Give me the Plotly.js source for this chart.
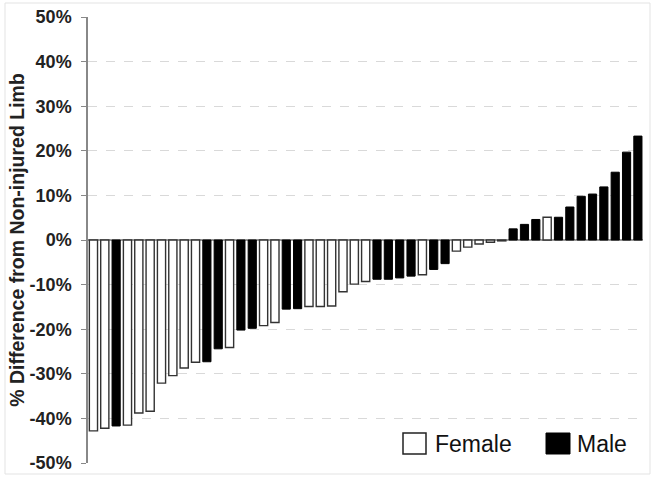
<!DOCTYPE html>
<html>
<head>
<meta charset="utf-8">
<script src="https://cdn.plot.ly/plotly-3.0.1.min.js"></script>
<style>
  html, body { margin: 0; padding: 0; background: #fff; }
  #chart { width: 654px; height: 479px; }
</style>
</head>
<body>
<div id="chart"></div>
<script>
// bars sorted from largest deficit to largest gain, one per subject
const subjectIdx = [];
for (let i = 1; i <= 49; i++) subjectIdx.push(i);

const sex = ['F', 'F', 'M', 'F', 'F', 'F', 'F', 'F', 'F', 'F',
             'M', 'M', 'F', 'M', 'M', 'F', 'F', 'M', 'M', 'F',
             'F', 'F', 'F', 'F', 'F', 'M', 'M', 'M', 'M', 'F',
             'M', 'M', 'F', 'F', 'F', 'F', 'F', 'M', 'M', 'M',
             'F', 'M', 'M', 'M', 'M', 'M', 'M', 'M', 'M'];

const pctDiff = [-42.8, -42.2, -41.7, -41.5, -38.8, -38.4, -32.1, -30.4, -28.7, -27.4,
                 -27.3, -24.4, -24.1, -20.2, -19.8, -19.2, -18.5, -15.5, -15.4, -14.9,
                 -14.9, -14.8, -11.6, -9.9, -9.3, -8.8, -8.8, -8.5, -8.1, -7.8,
                 -6.6, -5.3, -2.5, -1.6, -0.9, -0.5, -0.2, 2.5, 3.5, 4.6,
                 5.1, 5.1, 7.4, 9.8, 10.3, 11.9, 15.2, 19.7, 23.3];

const yTickVals = [-50, -40, -30, -20, -10, 0, 10, 20, 30, 40, 50];
const yTickText = ['-50%', '-40%', '-30%', '-20%', '-10%', '0%', '10%', '20%', '30%', '40%', '50%'];

const legendNames = ['Female', 'Male'];

// split into the two groups
const femX = [], femY = [], maleX = [], maleY = [];
for (let i = 0; i < pctDiff.length; i++) {
    if (sex[i] === 'F') { femX.push(subjectIdx[i]); femY.push(pctDiff[i]); }
    else { maleX.push(subjectIdx[i]); maleY.push(pctDiff[i]); }
}

const female = {
    type: 'bar',
    x: femX,
    y: femY,
    name: legendNames[0],
    width: 0.72,
    marker: {color: '#ffffff', line: {color: '#333333', width: 1.4}},
    hoverinfo: 'skip'
};

const male = {
    type: 'bar',
    x: maleX,
    y: maleY,
    name: legendNames[1],
    width: 0.72,
    marker: {color: '#000000', line: {color: '#000000', width: 1}},
    hoverinfo: 'skip'
};

// plot area is 555 x 446 px, helpers to place the legend box in pixels
const W = 555, H = 446, L = 88, T = 17;
const px = v => (v - L) / W;
const py = v => (T + H - v) / H;

const layout = {
    width: 654,
    height: 479,
    margin: {l: 88, r: 11, t: 17, b: 16},
    paper_bgcolor: '#ffffff',
    plot_bgcolor: '#ffffff',
    barmode: 'overlay',
    showlegend: false,
    font: {family: 'Liberation Sans, Arial, sans-serif', color: '#222222'},
    xaxis: {
        range: [0.52, 49.45],
        showticklabels: false,
        showgrid: false,
        zeroline: false,
        showline: false,
        ticks: ''
    },
    yaxis: {
        range: [-50, 50],
        tickvals: yTickVals,
        ticktext: yTickText,
        tickfont: {size: 18, weight: 'bold', color: '#222222'},
        ticks: 'outside',
        ticklen: 5,
        tickcolor: '#888888',
        ticklabelstandoff: 6,
        showline: true,
        linecolor: '#888888',
        linewidth: 1.5,
        showgrid: true,
        gridcolor: '#d9d9d9',
        griddash: 'dash',
        zeroline: true,
        zerolinecolor: '#999999',
        zerolinewidth: 1.5,
        title: {
            text: '% Difference from Non-injured Limb',
            font: {size: 19.5, weight: 'bold', color: '#222222'},
            standoff: 0
        }
    },
    shapes: [
        {
            type: 'rect', xref: 'paper', yref: 'paper',
            x0: px(5), x1: px(650), y0: py(474), y1: py(3),
            line: {color: '#e3e3e3', width: 1}
        },
        // legend swatches
        {
            type: 'rect', xref: 'paper', yref: 'paper',
            x0: px(403), x1: px(426), y0: py(454), y1: py(433),
            fillcolor: '#ffffff', line: {color: '#222222', width: 1.5}
        },
        {
            type: 'rect', xref: 'paper', yref: 'paper',
            x0: px(546), x1: px(570), y0: py(454), y1: py(433),
            fillcolor: '#000000', line: {color: '#000000', width: 1}
        }
    ],
    annotations: [
        {
            xref: 'paper', yref: 'paper', x: px(433), y: py(444),
            xanchor: 'left', yanchor: 'middle', showarrow: false,
            text: legendNames[0], font: {size: 23, color: '#111111'}
        },
        {
            xref: 'paper', yref: 'paper', x: px(575), y: py(444),
            xanchor: 'left', yanchor: 'middle', showarrow: false,
            text: legendNames[1], font: {size: 23, color: '#111111'}
        }
    ]
};

Plotly.newPlot('chart', [female, male], layout, {displayModeBar: false});
</script>
</body>
</html>
